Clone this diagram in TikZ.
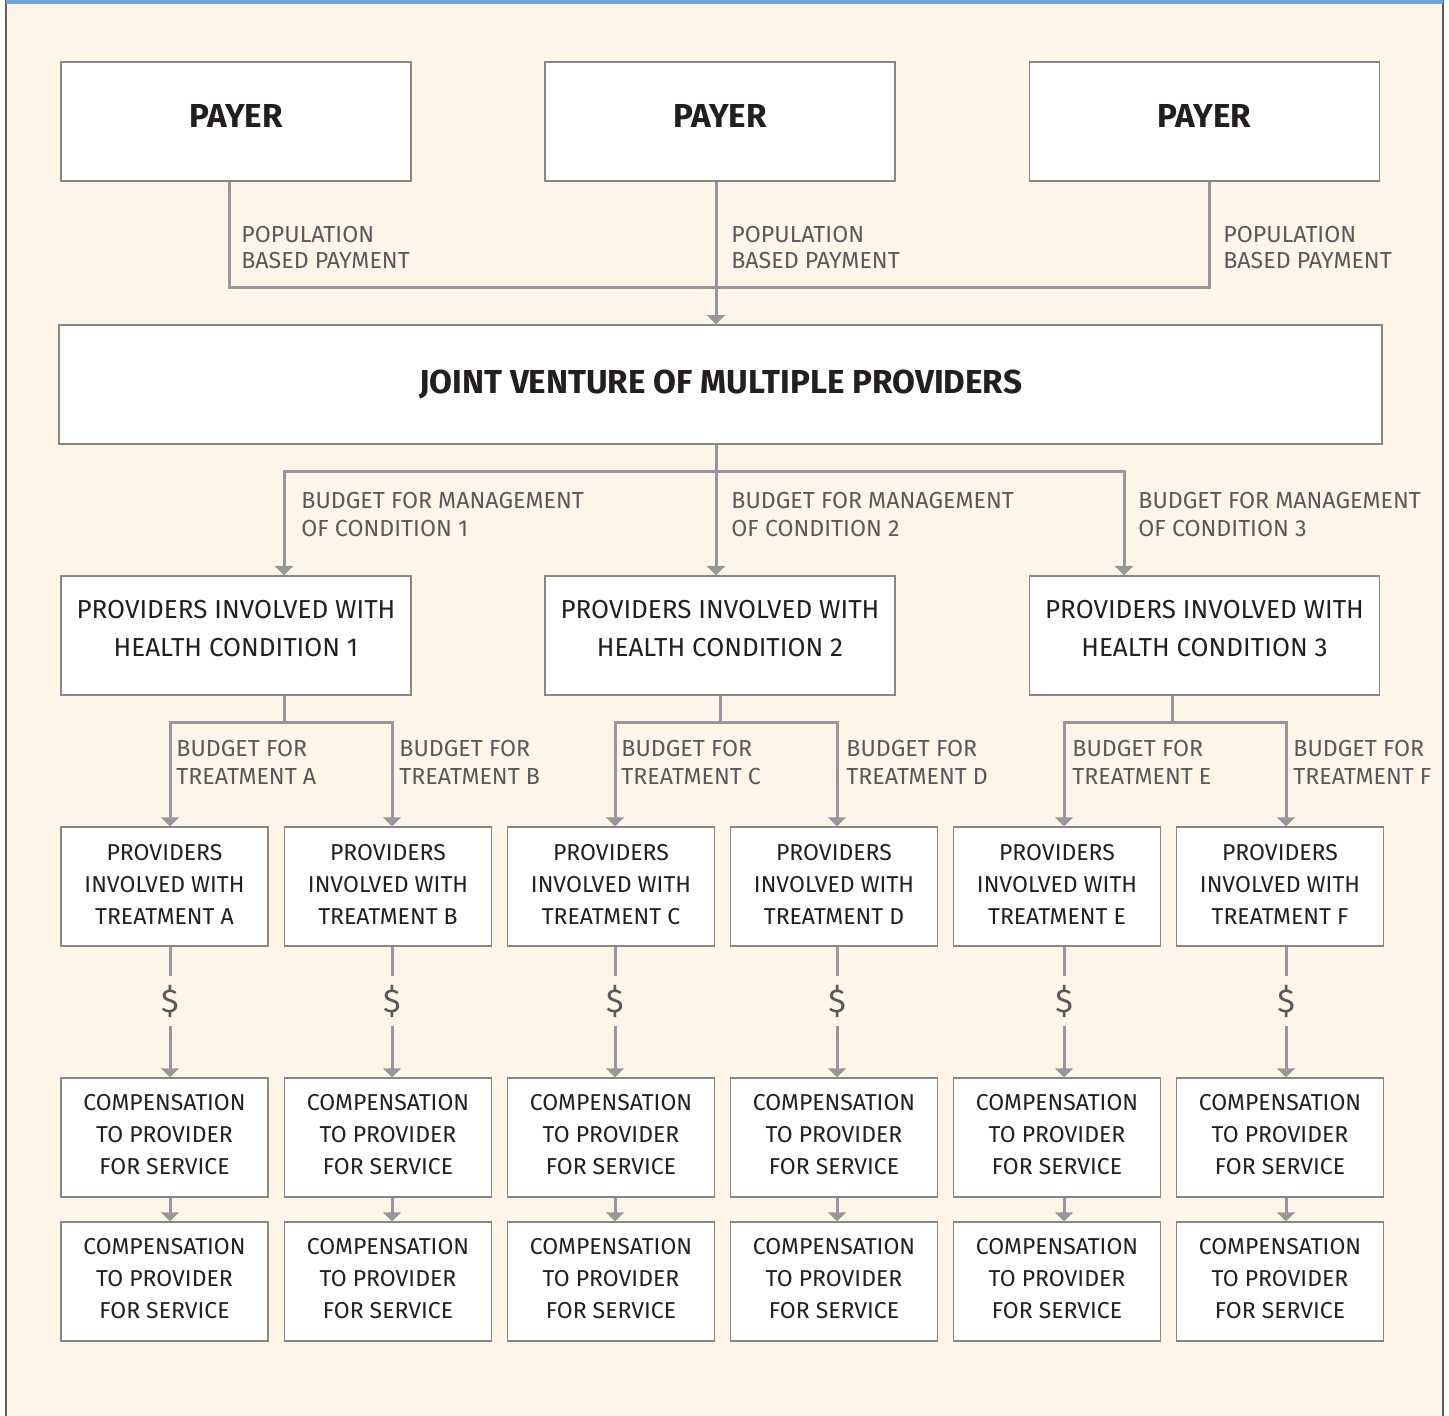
\documentclass[tikz,border=0pt]{standalone}
\usepackage{fontspec}
\setmainfont{Fira Sans}
\usetikzlibrary{arrows.meta}
\definecolor{cream}{RGB}{253,245,232}
\definecolor{linegray}{RGB}{150,150,155}
\definecolor{boxgray}{RGB}{135,135,135}
\definecolor{labelgray}{RGB}{88,89,91}
\definecolor{textdark}{RGB}{35,31,32}
\definecolor{topblue}{RGB}{108,166,218}
\definecolor{framegray}{RGB}{95,95,95}
\newcommand{\liftby}[1]{\rule[-#1]{0pt}{#1}}
\begin{document}
\begin{tikzpicture}[x=0.5pt,y=-0.5pt,
 box/.style={draw=boxgray, line width=0.75pt, fill=white, minimum height=59.5pt, inner sep=0pt, align=center, text=textdark},
 bigbox/.style={box, minimum width=175pt, font=\fontsize{16.6}{20}\selectfont\bfseries},
 condbox/.style={box, minimum width=175pt, font=\fontsize{13}{19}\selectfont},
 smallbox/.style={box, minimum width=103.5pt, font=\fontsize{11.5}{16}\selectfont},
 lbl/.style={anchor=north west, inner sep=0pt, align=left, text=labelgray, font=\fontsize{11.6}{14}\selectfont},
 poplbl/.style={lbl, font=\fontsize{11.6}{13}\selectfont},
 conn/.style={draw=linegray, line width=1.5pt},
 arr/.style={conn, -{Triangle[width=9pt,length=4.5pt]}},
 dollar/.style={inner xsep=0pt, inner ysep=4pt, text=labelgray, font=\fontsize{16.5}{16.5}\selectfont}
]
% background and frame
\useasboundingbox (0,0) rectangle (1449,1416);
\fill[white] (0,0) rectangle (1449,1416);
\fill[cream] (6,0) rectangle (1443,1416);
\draw[framegray, line width=0.75pt] (6,0) -- (6,1416);
\draw[framegray, line width=0.75pt] (1443,0) -- (1443,1416);
\fill[topblue] (6,0) rectangle (1443,4);

% payers
\node[bigbox] (p1) at (236,121.5) {PAYER\liftby{5pt}};
\node[bigbox] (p2) at (720,121.5) {PAYER\liftby{5pt}};
\node[bigbox] (p3) at (1204.5,121.5) {PAYER\liftby{5pt}};

% joint venture
\node[bigbox, minimum width=661.5pt] (jv) at (720.5,384.5) {JOINT VENTURE OF MULTIPLE PROVIDERS\liftby{1pt}};

% conditions
\node[condbox] (c1) at (236,635.5) {PROVIDERS INVOLVED WITH\\HEALTH CONDITION 1\liftby{7.5pt}};
\node[condbox] (c2) at (720,635.5) {PROVIDERS INVOLVED WITH\\HEALTH CONDITION 2\liftby{7.5pt}};
\node[condbox] (c3) at (1204.5,635.5) {PROVIDERS INVOLVED WITH\\HEALTH CONDITION 3\liftby{7.5pt}};

% junction coordinates
\coordinate (xa) at (229,0);
\coordinate (xc) at (1209,0);
\coordinate (jp) at (716,288);
\coordinate (jb) at (716,472);
\coordinate (k1) at (284,0);
\coordinate (k3) at (1124,0);
\coordinate (m1) at (284,722);
\coordinate (m2) at (720,722);
\coordinate (m3) at (1172,722);

% payer connectors
\draw[conn] (p1.south -| xa) |- (jp) -| (p3.south -| xc);
\draw[arr] (p2.south -| jp) -- (jv.north -| jp);

% JV connectors
\draw[conn] (jv.south -| jb) -- (jb);
\draw[arr] (jb) -| (c1.north -| k1);
\draw[arr] (jb) -| (c3.north -| k3);
\draw[arr] (jb) -- (c2.north -| jb);

% labels
\node[poplbl] (l1) at (241,226) {POPULATION\\BASED PAYMENT};
\node[poplbl] (l2) at (731,226) {POPULATION\\BASED PAYMENT};
\node[poplbl] (l3) at (1223,226) {POPULATION\\BASED PAYMENT};
\node[lbl] (b1) at (301,492) {BUDGET FOR MANAGEMENT\\OF CONDITION 1};
\node[lbl] (b2) at (731,492) {BUDGET FOR MANAGEMENT\\OF CONDITION 2};
\node[lbl] (b3) at (1138,492) {BUDGET FOR MANAGEMENT\\OF CONDITION 3};

% treatment columns
\foreach \n/\cx/\col/\lx in {A/164.5/170/176, B/388/392/399, C/611/615/621, D/834/837/846, E/1057/1064/1072, F/1280/1286/1293}{
  \coordinate (col\n) at (\col,0);
  \node[smallbox] (t\n) at (\cx,886.5) {PROVIDERS\\INVOLVED WITH\\TREATMENT \n\liftby{2pt}};
  \node[smallbox] (u\n) at (\cx,1137.5) {COMPENSATION\\TO PROVIDER\\FOR SERVICE\liftby{3pt}};
  \node[smallbox] (v\n) at (\cx,1281.5) {COMPENSATION\\TO PROVIDER\\FOR SERVICE\liftby{3pt}};
  \node[lbl] (bt\n) at (\lx,740) {BUDGET FOR\\TREATMENT \n};
  \node[dollar] (d\n) at (\col,1001) {\$};
  \draw[conn] (t\n.south -| d\n) -- (d\n.north);
  \draw[arr] (d\n.south) -- (u\n.north -| d\n);
  \draw[arr] (u\n.south -| d\n) -- (v\n.north -| d\n);
}

% condition to treatment connectors
\draw[conn] (c1.south -| m1) -- (m1);
\draw[arr] (m1) -| (tA.north -| colA);
\draw[arr] (m1) -| (tB.north -| colB);
\draw[conn] (c2.south -| m2) -- (m2);
\draw[arr] (m2) -| (tC.north -| colC);
\draw[arr] (m2) -| (tD.north -| colD);
\draw[conn] (c3.south -| m3) -- (m3);
\draw[arr] (m3) -| (tE.north -| colE);
\draw[arr] (m3) -| (tF.north -| colF);
\end{tikzpicture}
\end{document}
